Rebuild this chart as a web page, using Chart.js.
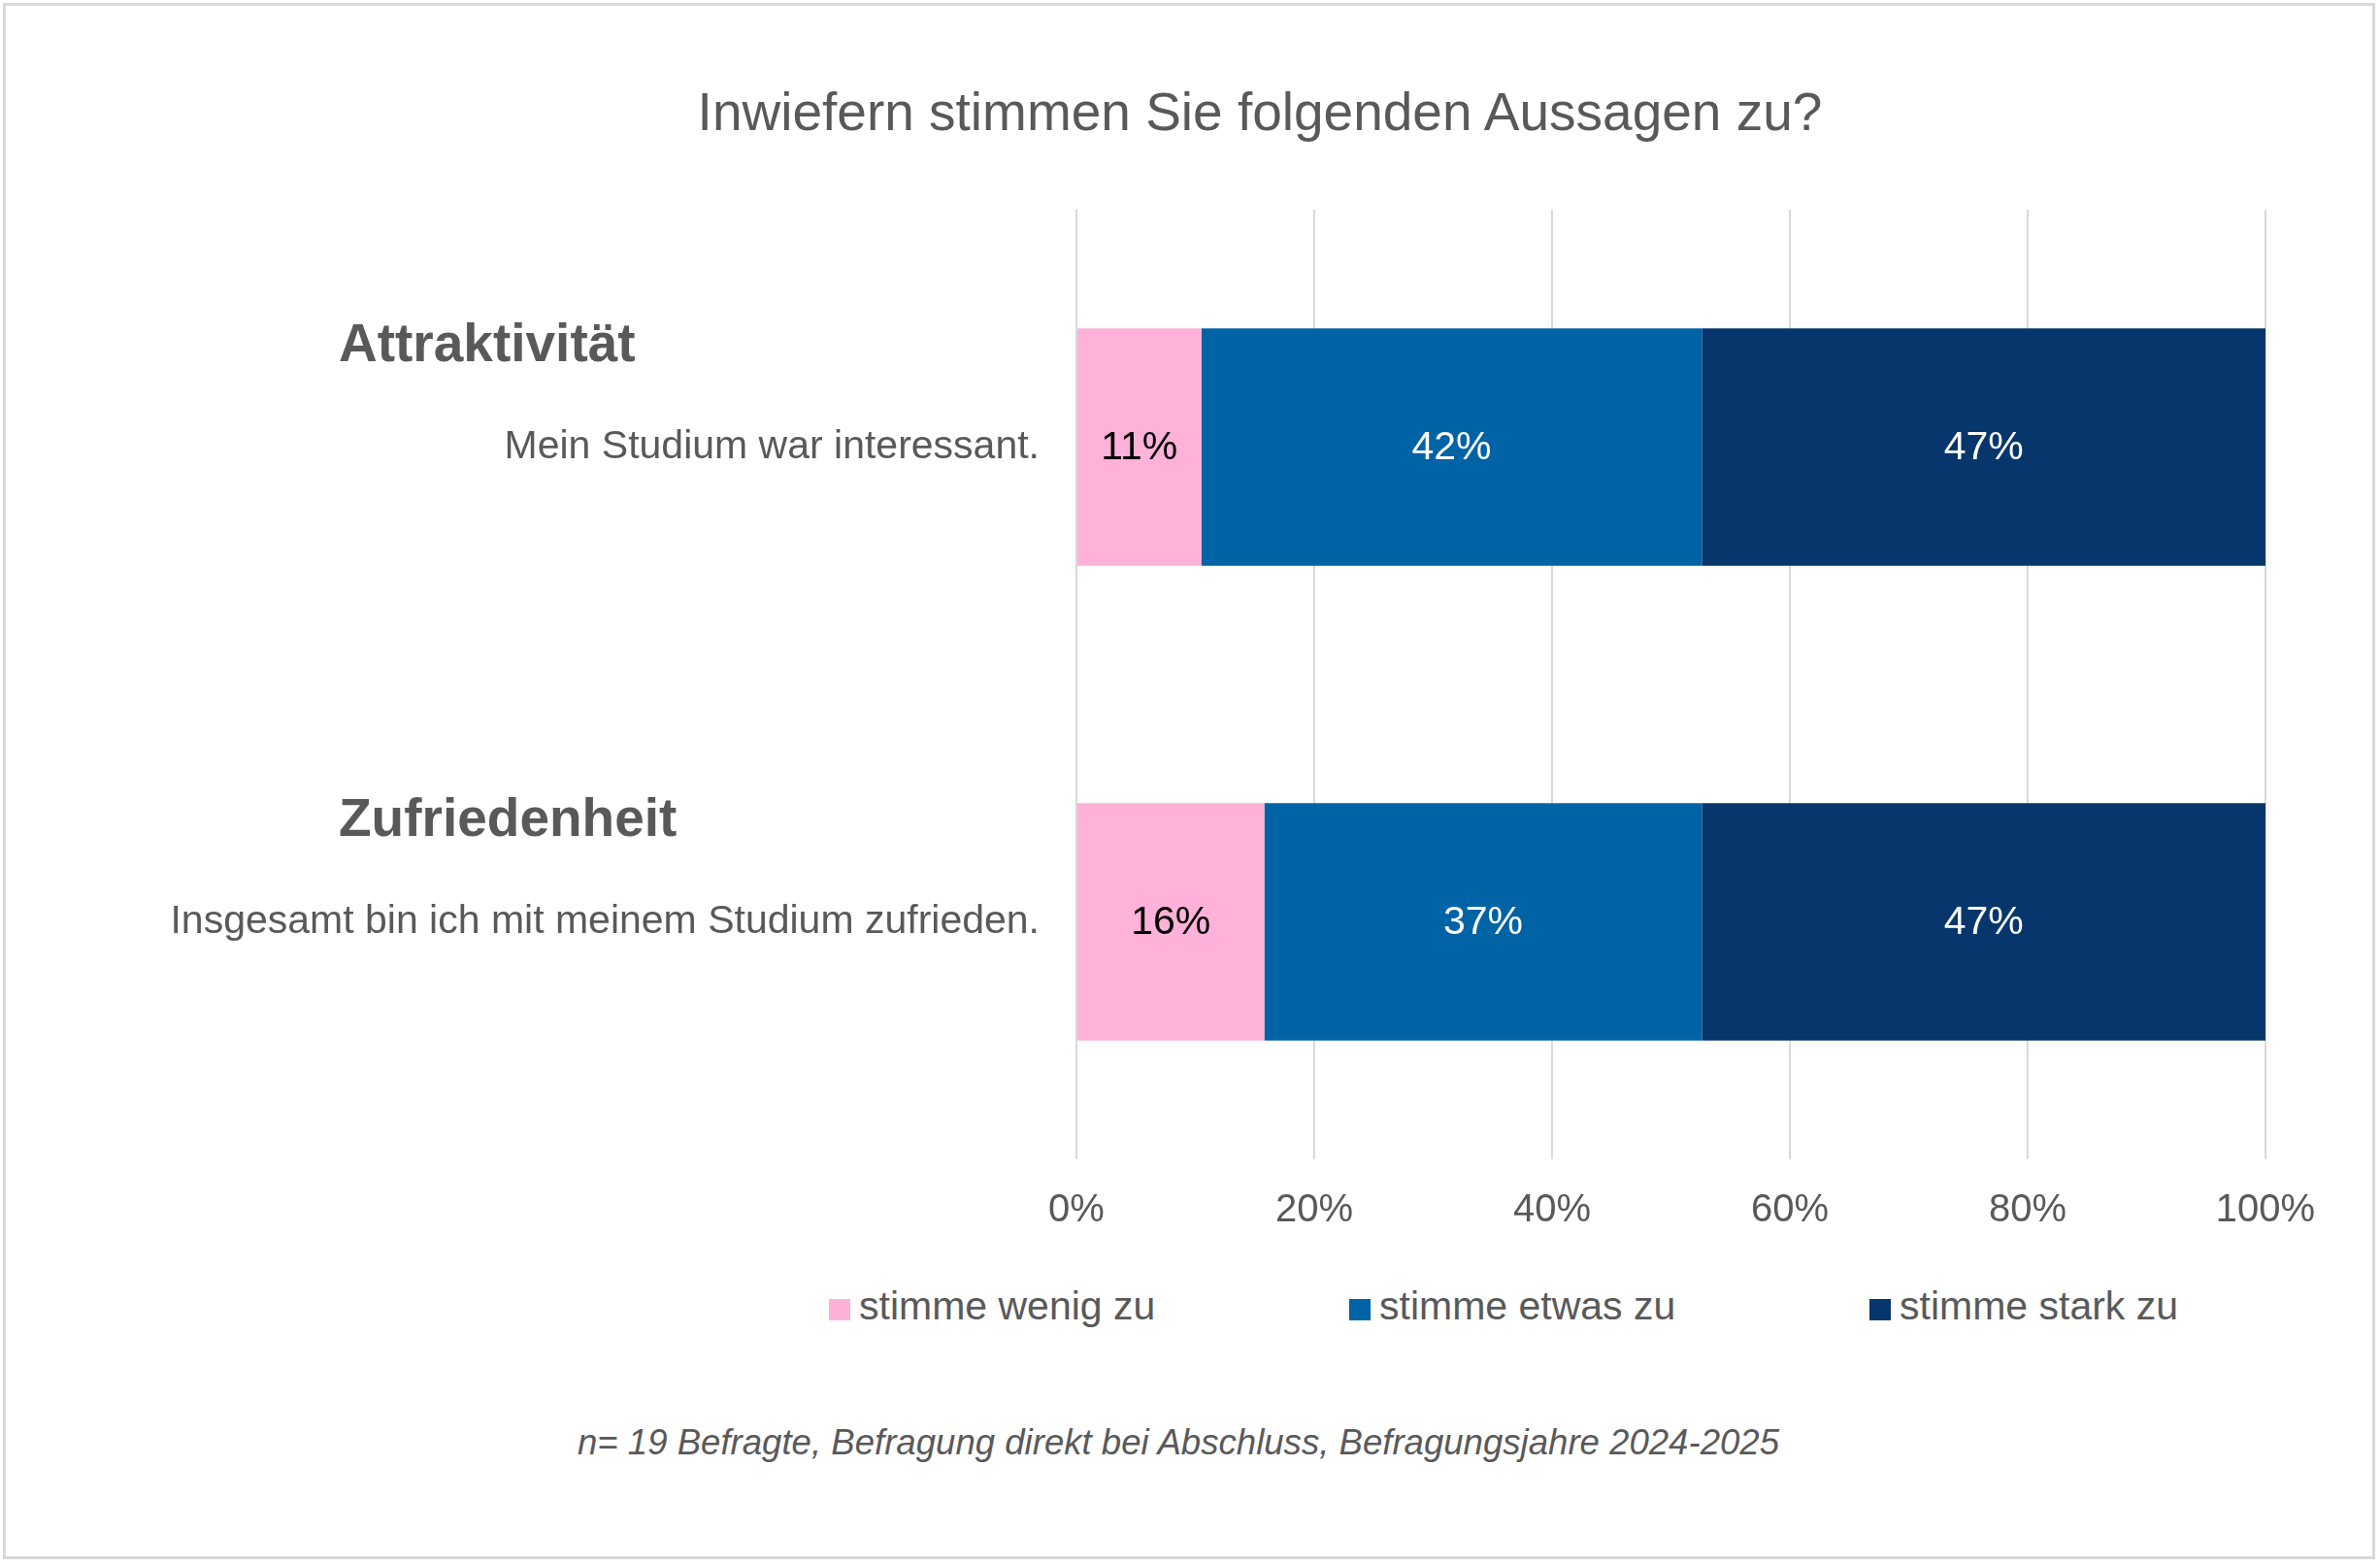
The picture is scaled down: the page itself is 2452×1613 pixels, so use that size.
<!DOCTYPE html>
<html lang="de">
<head>
<meta charset="utf-8">
<title>Inwiefern stimmen Sie folgenden Aussagen zu?</title>
<script src="https://cdn.jsdelivr.net/npm/chart.js@4.4.1/dist/chart.umd.min.js"></script>
<style>
  html, body { margin: 0; padding: 0; background: #ffffff; }
  body { width: 2452px; height: 1613px; position: relative; overflow: hidden;
         font-family: "Liberation Sans", Arial, Helvetica, sans-serif; color: #595959; }
  .frame { position: absolute; left: 3px; top: 3px; width: 2444px; height: 1603px;
           box-sizing: border-box; border: 3px solid #d9d9d9; }
  .title { position: absolute; left: 1298px; top: 88px; transform: translateX(-50%);
           white-space: nowrap; font-size: 55px; line-height: 55px; }
  .chart-box { position: absolute; left: 0; top: 0; width: 2452px; height: 1300px; }
  .legend { position: absolute; left: 854px; top: 1321px; display: flex; }
  .legend__item { width: 536px; display: flex; align-items: center; white-space: nowrap;
                  font-size: 41px; line-height: 48px; }
  .legend__box { width: 22px; height: 22px; margin-right: 9px; margin-top: 8px; flex: none; }
  .note { position: absolute; left: 1214px; top: 1467px; transform: translateX(-50%);
          white-space: nowrap; font-size: 36.6px; line-height: 37px; font-style: italic; }
</style>
</head>
<body>
<div class="frame"></div>
<div class="title">Inwiefern stimmen Sie folgenden Aussagen zu?</div>
<div class="chart-box"><canvas id="chart"></canvas></div>
<div class="legend" id="legend"></div>
<div class="note">n= 19 Befragte, Befragung direkt bei Abschluss, Befragungsjahre 2024-2025</div>

<script>
/* ── Data ─────────────────────────────────────────────────────────────── */

var groups     = ['Attraktivität', 'Zufriedenheit'];
var statements = ['Mein Studium war interessant.',
                  'Insgesamt bin ich mit meinem Studium zufrieden.'];
var seriesNames = ['stimme wenig zu', 'stimme etwas zu', 'stimme stark zu'];
var wenig = [10.5, 15.8];
var etwas = [42.1, 36.8];
var stark = [47.4, 47.4];

/* ── Styles ───────────────────────────────────────────────────────────── */

var FONT       = '"Liberation Sans", Arial, Helvetica, sans-serif';
var TEXT_GREY  = '#595959';
var COLORS     = ['#feb1d9', '#0063a6', '#06366b'];
var LABEL_INK  = ['#000000', '#ffffff', '#ffffff'];

/* ── Plugins ──────────────────────────────────────────────────────────── */

// percentage in the middle of every segment
var segmentLabels = {
  id: 'segmentLabels',
  afterDatasetsDraw: function (chart) {
    var ctx = chart.ctx;
    ctx.save();
    ctx.font = '41px ' + FONT;
    ctx.textAlign = 'center';
    ctx.textBaseline = 'middle';
    chart.data.datasets.forEach(function (ds, di) {
      var meta = chart.getDatasetMeta(di);
      ctx.fillStyle = LABEL_INK[di];
      meta.data.forEach(function (bar, i) {
        var p = bar.getCenterPoint();
        ctx.fillText(Math.round(ds.data[i]) + '%', p.x, p.y + 1);
      });
    });
    ctx.restore();
  }
};

// bold group heading above each statement
var groupHeadings = {
  id: 'groupHeadings',
  afterDraw: function (chart) {
    var ctx = chart.ctx;
    var y = chart.scales.y;
    ctx.save();
    ctx.font = 'bold 55px ' + FONT;
    ctx.fillStyle = TEXT_GREY;
    ctx.textAlign = 'left';
    ctx.textBaseline = 'alphabetic';
    groups.forEach(function (g, i) {
      ctx.fillText(g, 349, y.getPixelForValue(i) - 89);
    });
    ctx.restore();
  }
};

/* ── Chart ────────────────────────────────────────────────────────────── */

var series = [wenig, etwas, stark];

var chart = new Chart(document.getElementById('chart'), {
  type: 'bar',
  data: {
    labels: statements,
    datasets: series.map(function (values, i) {
      return {
        label: seriesNames[i],
        data: values,
        backgroundColor: COLORS[i],
        borderWidth: 0,
        categoryPercentage: 1,
        barPercentage: 0.5
      };
    })
  },
  options: {
    indexAxis: 'y',
    animation: false,
    responsive: true,
    maintainAspectRatio: false,
    layout: { padding: { top: 216, right: 118, bottom: 0, left: 0 } },
    scales: {
      x: {
        stacked: true,
        min: 0,
        max: 100,
        ticks: {
          stepSize: 20,
          padding: 29,
          color: TEXT_GREY,
          font: { family: FONT, size: 40 },
          callback: function (v) { return v + '%'; }
        },
        grid: { color: '#d9d9d9', lineWidth: 2, drawTicks: false },
        border: { display: false }
      },
      y: {
        stacked: true,
        ticks: {
          padding: 30,
          color: TEXT_GREY,
          font: { family: FONT, size: 41 }
        },
        grid: { display: false },
        border: { display: false },
        afterFit: function (scale) { scale.width = 1109; }
      }
    },
    plugins: {
      legend: { display: false },
      tooltip: { enabled: false }
    }
  },
  plugins: [segmentLabels, groupHeadings]
});

/* ── HTML legend from the chart's own legend items ────────────────────── */

var legendEl = document.getElementById('legend');
Chart.defaults.plugins.legend.labels.generateLabels(chart).forEach(function (item) {
  var el = document.createElement('div');
  el.className = 'legend__item';
  el.innerHTML = '<span class="legend__box" style="background:' + item.fillStyle + '"></span>' +
                 '<span>' + item.text + '</span>';
  legendEl.appendChild(el);
});
</script>
</body>
</html>
